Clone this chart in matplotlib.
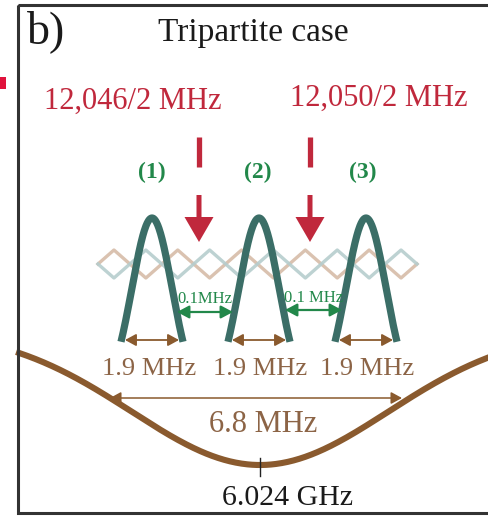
import numpy as np
import matplotlib
matplotlib.use("Agg")
import matplotlib.pyplot as plt
from matplotlib.patches import Rectangle, FancyArrow, FancyArrowPatch

plt.rcParams["font.family"] = ["Liberation Serif", "DejaVu Serif"]

# ---- content -------------------------------------------------------------
panel_label = "b)"
title = "Tripartite case"
pump_labels = ["12,046/2 MHz", "12,050/2 MHz"]
mode_labels = ["(1)", "(2)", "(3)"]
mode_width_labels = ["1.9 MHz", "1.9 MHz", "1.9 MHz"]
spacing_labels = ["0.1MHz", "0.1 MHz"]
cavity_width_label = "6.8 MHz"
cavity_center_label = "6.024 GHz"

# ---- layout (canvas units = pixels, y downwards) --------------------------
W, H = 489, 517
mode_x = [152, 259, 366]          # mode centres
mode_floor = 395                  # level the bell profile is measured from
mode_amp = 177
mode_sigma = 20
mode_half_base = 31
pump_x = [199, 310]
pump_text_x = [133, 379]
pump_text_y = [109, 106]
mode_label_x = [152, 258, 363]
width_text_x = [149, 260, 367]
spacing_arrows = [(177, 233, 312), (285, 342, 310)]
spacing_text = [(205, 303), (314, 302)]
cav_center = 260
cav_base = 330
cav_depth = 135
cav_sigma = 128

teal = "#3b6e67"
brown = "#8a5a2e"
brown_txt = "#8c6446"
red = "#c0283c"
green = "#22884a"
tan = "#d6bca8"
blue = "#b6cdcd"

fig = plt.figure(figsize=(W / 100, H / 100), dpi=100)
ax = fig.add_axes([0, 0, 1, 1])
ax.set_xlim(0, W)
ax.set_ylim(H, 0)
ax.axis("off")

# frame and side marker
ax.add_patch(Rectangle((18, 5), 490, 508, fill=False, lw=2.2,
                       edgecolor="#333333", zorder=5))
ax.add_patch(Rectangle((0, 77), 6, 12, color="#e0123c", lw=0, zorder=5))

# text header
ax.text(27, 43, panel_label, fontsize=33, color="#1a1a1a", ha="left",
        va="baseline")
ax.text(253, 41, title, fontsize=24, color="#1a1a1a", ha="center",
        va="baseline")
for lbl, x, y in zip(pump_labels, pump_text_x, pump_text_y):
    ax.text(x, y, lbl, fontsize=22, color=red, ha="center", va="baseline")

# pump markers: dash + arrow
for x in pump_x:
    ax.plot([x, x], [137, 167], color=red, lw=3.8, solid_capstyle="butt")
    ax.add_patch(FancyArrow(x, 195, 0, 47, width=5, head_width=29,
                            head_length=25, length_includes_head=True,
                            color=red, lw=0, zorder=4))

for lbl, x in zip(mode_labels, mode_label_x):
    ax.text(x, 178, lbl, fontsize=17, fontweight="bold", color=green,
            ha="center", va="baseline")

# diamond lattice behind the modes: two crossing zigzags
D = 31.9
x0 = 98
ymid, yh = 264, 14
n_d = 10
k = np.arange(2 * n_d + 1)
xs = x0 + k * D / 2
sign = np.where(k % 2 == 0, 0, np.where((k // 2) % 2 == 0, -1, 1))
ax.plot(xs, ymid + sign * yh, color=tan, lw=2.4, alpha=0.9, zorder=1)
ax.plot(xs, ymid - sign * yh, color=blue, lw=2.4, alpha=0.9, zorder=1)

# mode profiles
d = np.linspace(-mode_half_base, mode_half_base, 200)
for c in mode_x:
    y = mode_floor - mode_amp * np.exp(-d ** 2 / (2 * mode_sigma ** 2))
    ax.plot(c + d, y, color=teal, lw=5.2, solid_capstyle="butt", zorder=3)

# spacing arrows between modes
for (xa, xb, y), (tx, ty), lbl in zip(spacing_arrows, spacing_text,
                                      spacing_labels):
    ax.add_patch(FancyArrowPatch((xa, y), (xb, y),
                                 arrowstyle="<|-|>,head_length=0.6,head_width=0.32",
                                 mutation_scale=12, color=green, lw=1.6,
                                 shrinkA=0, shrinkB=0, zorder=4))
    ax.text(tx, ty, lbl, fontsize=12, color=green, ha="center",
            va="baseline", zorder=4)

# mode width arrows
for c, tx, lbl in zip(mode_x, width_text_x, mode_width_labels):
    ax.add_patch(FancyArrowPatch((c - 27, 340), (c + 27, 340),
                                 arrowstyle="<|-|>,head_length=0.55,head_width=0.3",
                                 mutation_scale=12, color=brown, lw=1.3,
                                 shrinkA=0, shrinkB=0, zorder=4))
    ax.text(tx, 375, lbl, fontsize=19, color=brown_txt, ha="center",
            va="baseline")

# cavity resonance
xc = np.linspace(19, W, 400)
yc = cav_base + cav_depth * np.exp(-(xc - cav_center) ** 2 / (2 * cav_sigma ** 2))
ax.plot(xc, yc, color=brown, lw=4.4, zorder=2)
ax.add_patch(FancyArrowPatch((110, 398), (402, 398),
                             arrowstyle="<|-|>,head_length=0.55,head_width=0.3",
                             mutation_scale=12, color=brown, lw=1.1,
                             shrinkA=0, shrinkB=0, zorder=4))
ax.text(263, 432, cavity_width_label, fontsize=22, color=brown_txt,
        ha="center", va="baseline")
ax.plot([cav_center, cav_center], [458, 476], color="#222222", lw=1.0,
        zorder=4)
ax.text(287, 505, cavity_center_label, fontsize=21.5, color="#1a1a1a",
        ha="center", va="baseline")

fig.savefig("out.png", dpi=100)
